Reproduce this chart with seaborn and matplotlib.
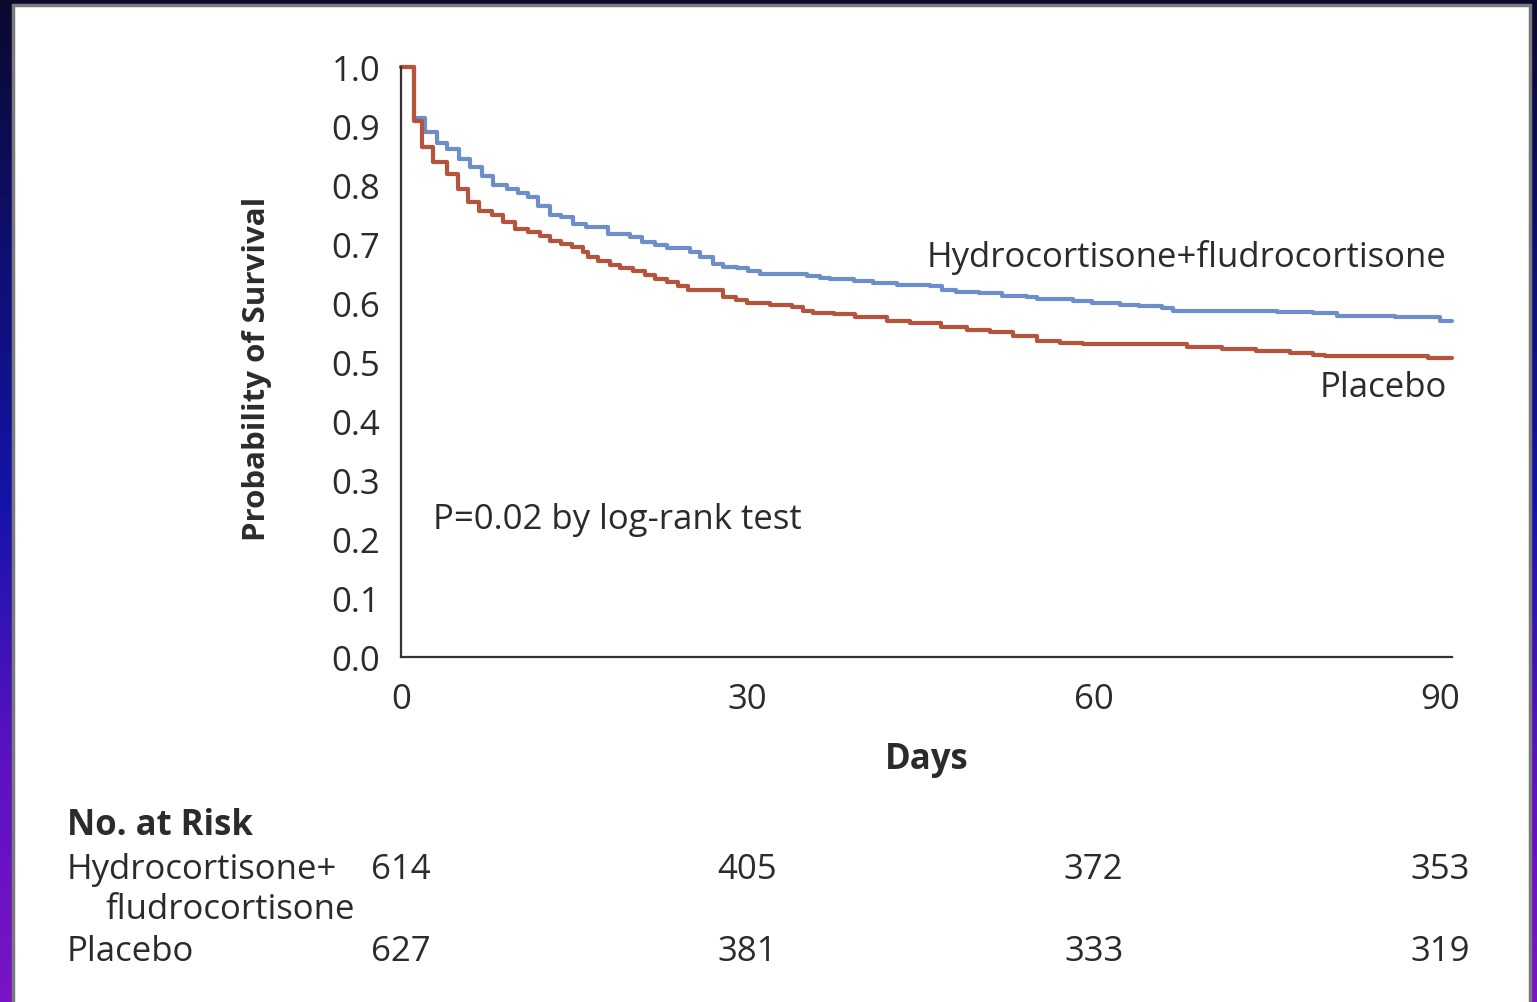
import numpy as np
import pandas as pd
import matplotlib
matplotlib.use("Agg")
import matplotlib.pyplot as plt
import matplotlib.transforms as mtransforms
from matplotlib.patches import Rectangle
import seaborn as sns

# Kaplan-Meier step points (days, probability of survival)
hydro_days = [0, 1.1, 2.1, 3.1, 4.0, 5.0, 6.0, 7.0, 8.0, 9.2, 10.1, 11.0, 11.9, 12.9, 13.9, 14.9,
              16.0, 17.9, 19.8, 20.9, 22.0, 23.0, 25.0, 25.9, 27.0, 27.9, 29.1, 30.1, 31.1, 35.2,
              36.3, 37.2, 39.2, 40.9, 43.0, 45.8, 46.9, 48.1, 50.1, 52.1, 54.2, 55.1, 58.2, 59.9,
              62.3, 63.9, 65.9, 66.9, 75.9, 79.0, 81.1, 86.1, 90.0, 91.0]
hydro_surv = [1.0, 0.913, 0.89, 0.871, 0.861, 0.844, 0.83, 0.815, 0.80, 0.793, 0.786, 0.78, 0.764, 0.75,
              0.746, 0.734, 0.728, 0.717, 0.712, 0.703, 0.698, 0.693, 0.686, 0.678, 0.666, 0.661,
              0.659, 0.654, 0.650, 0.646, 0.643, 0.640, 0.637, 0.634, 0.630, 0.628, 0.622, 0.619,
              0.617, 0.612, 0.610, 0.607, 0.603, 0.600, 0.597, 0.595, 0.591, 0.587, 0.585, 0.583,
              0.578, 0.576, 0.569, 0.569]

placebo_days = [0, 1.1, 1.8, 2.8, 4.0, 4.9, 5.8, 6.8, 7.9, 8.8, 9.9, 11.0, 12.0, 12.9, 13.9, 14.8,
                15.8, 16.2, 17.1, 18.1, 19.0, 20.1, 21.1, 22.0, 23.0, 24.0, 24.9, 27.9, 29.0, 30.0,
                32.0, 33.9, 34.8, 35.7, 37.5, 39.3, 42.1, 44.1, 46.8, 49.0, 51.0, 53.0, 55.1, 57.1,
                59.1, 68.1, 71.1, 74.1, 77.0, 79.0, 80.0, 89.0, 91.0]
placebo_surv = [1.0, 0.908, 0.864, 0.839, 0.819, 0.793, 0.771, 0.756, 0.749, 0.737, 0.725, 0.72, 0.714,
                0.705, 0.70, 0.695, 0.686, 0.678, 0.671, 0.664, 0.659, 0.654, 0.647, 0.641, 0.636,
                0.629, 0.622, 0.610, 0.605, 0.600, 0.597, 0.593, 0.586, 0.583, 0.581, 0.576, 0.569,
                0.566, 0.559, 0.554, 0.551, 0.544, 0.536, 0.532, 0.530, 0.525, 0.522, 0.519, 0.515,
                0.512, 0.510, 0.507, 0.507]

# number at risk table
risk_days = [0, 30, 60, 90]
hydro_risk = [614, 405, 372, 353]
placebo_risk = [627, 381, 333, 319]

hydro_name = "Hydrocortisone+fludrocortisone"
placebo_name = "Placebo"

df = pd.concat([
    pd.DataFrame({"day": hydro_days, "surv": hydro_surv, "group": hydro_name}),
    pd.DataFrame({"day": placebo_days, "surv": placebo_surv, "group": placebo_name}),
])

sns.set_style("white")
plt.rcParams["font.family"] = ["Open Sans", "DejaVu Sans"]
text_col = "#2b2b2b"
fs = 25

fig = plt.figure(figsize=(15.37, 10.03), dpi=100)

# slide background: dark gradient behind a white panel
bg = fig.add_axes([0, 0, 1, 1])
bg.axis("off")
grad = np.linspace(0, 1, 256)[:, None]
cmap = matplotlib.colors.LinearSegmentedColormap.from_list(
    "slide", ["#0a0a2e", "#0f0f70", "#1414a8", "#5a12c0", "#7a14c8"])
bg.imshow(grad, aspect="auto", cmap=cmap, extent=[0, 1, 0, 1], origin="upper")
bg.add_patch(Rectangle((13 / 1537, -0.01), (1530 - 13) / 1537, 1 - 6 / 1003 + 0.01,
                       facecolor="white", edgecolor="#7a7a7a", lw=2.5))
bg.set_xlim(0, 1)
bg.set_ylim(0, 1)

ax = fig.add_axes([401 / 1537, 345 / 1003, 1050.5 / 1537, 590 / 1003])
ax.patch.set_alpha(0)
sns.lineplot(data=df, x="day", y="surv", hue="group", estimator=None, sort=True,
             palette={hydro_name: "#6e8dcb", placebo_name: "#b5533b"},
             drawstyle="steps-post", lw=3, legend=False, ax=ax, clip_on=False)

ax.set_xlim(0, 91)
ax.set_ylim(0, 1.0)
ax.set_xticks([0, 30, 60, 90])
ax.set_yticks(np.arange(0, 1.01, 0.1))
ax.set_yticklabels([f"{v:.1f}" for v in np.arange(0, 1.01, 0.1)])
for s in ["top", "right"]:
    ax.spines[s].set_visible(False)
for s in ["left", "bottom"]:
    ax.spines[s].set_color("#333333")
    ax.spines[s].set_linewidth(1.6)
ax.tick_params(axis="y", direction="out", length=12, width=1.6, pad=3,
               labelsize=fs, colors="#333333", labelcolor=text_col)
ax.tick_params(axis="x", direction="out", length=11, width=1.6, pad=7,
               labelsize=fs, colors="#333333", labelcolor=text_col)
ax.set_xlabel("Days", fontsize=25, fontweight="bold", color=text_col)
ax.set_ylabel("Probability of Survival", fontsize=22.5, fontweight="bold", color=text_col)
ax.xaxis.set_label_coords(0.5, (658 - 742) / 590)
ax.yaxis.set_label_coords((272 - 401) / 1050.5, (658 - 369) / 590)

ax.text(90.6, 0.678, hydro_name, ha="right", va="center", fontsize=fs, color=text_col)
ax.text(90.6, 0.458, placebo_name, ha="right", va="center", fontsize=fs, color=text_col)
ax.text(2.8, 0.234, "P=0.02 by log-rank test", ha="left", va="center", fontsize=fs, color=text_col)

# number at risk
tr = mtransforms.blended_transform_factory(ax.transData, fig.transFigure)
def fy(py):
    return 1 - py / 1003

fig.text(67 / 1537, fy(826), "No. at Risk", ha="left", va="center", fontsize=fs,
         fontweight="bold", color=text_col)
fig.text(67 / 1537, fy(870), "Hydrocortisone+", ha="left", va="center", fontsize=fs, color=text_col)
fig.text(105 / 1537, fy(910), "fludrocortisone", ha="left", va="center", fontsize=fs, color=text_col)
fig.text(67 / 1537, fy(952), "Placebo", ha="left", va="center", fontsize=fs, color=text_col)
for d, h, p in zip(risk_days, hydro_risk, placebo_risk):
    ax.text(d, fy(870), str(h), transform=tr, ha="center", va="center", fontsize=fs, color=text_col)
    ax.text(d, fy(952), str(p), transform=tr, ha="center", va="center", fontsize=fs, color=text_col)

fig.savefig("out.png", dpi=100)
